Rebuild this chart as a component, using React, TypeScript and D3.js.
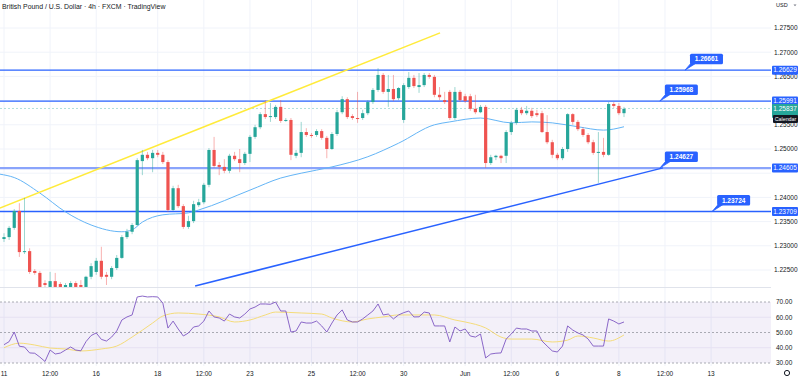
import React from 'react';
import * as d3 from 'd3';

const OPEN = [1.2314,1.2318,1.2337,1.2372,1.2287,1.2289,1.2248,1.2244,1.2223,1.2215,1.2227,1.2221,1.2213,1.2215,1.2223,1.2219,1.2215,1.2236,1.2246,1.2269,1.2240,1.2236,1.2254,1.2275,1.2318,1.2329,1.2343,1.2475,1.2488,1.2481,1.2492,1.2488,1.2473,1.2374,1.2419,1.2382,1.2339,1.2351,1.2384,1.2390,1.2426,1.2498,1.2467,1.2463,1.2455,1.2486,1.2479,1.2471,1.2490,1.2525,1.2545,1.2572,1.2566,1.2566,1.2587,1.2558,1.2560,1.2486,1.2492,1.2535,1.2529,1.2529,1.2537,1.2523,1.2500,1.2531,1.2576,1.2603,1.2568,1.2564,1.2564,1.2574,1.2597,1.2622,1.2653,1.2618,1.2624,1.2605,1.2560,1.2628,1.2647,1.2628,1.2632,1.2653,1.2649,1.2612,1.2601,1.2618,1.2564,1.2618,1.2609,1.2609,1.2583,1.2576,1.2587,1.2471,1.2483,1.2486,1.2486,1.2535,1.2554,1.2581,1.2574,1.2579,1.2574,1.2574,1.2535,1.2514,1.2488,1.2481,1.2500,1.2572,1.2556,1.2541,1.2529,1.2514,1.2492,1.2494,1.2488,1.2593,1.2589,1.2574];
const HIGH = [1.2326,1.2341,1.2376,1.2388,1.2399,1.2295,1.2252,1.2248,1.2229,1.2246,1.2244,1.2225,1.2223,1.2227,1.2227,1.2229,1.2238,1.2264,1.2275,1.2298,1.2246,1.2258,1.2281,1.2322,1.2335,1.2347,1.2481,1.2498,1.2494,1.2498,1.2498,1.2494,1.2477,1.2424,1.2426,1.2386,1.2362,1.2393,1.2397,1.2430,1.2502,1.2525,1.2473,1.2479,1.2490,1.2494,1.2500,1.2494,1.2529,1.2550,1.2576,1.2601,1.2595,1.2591,1.2601,1.2564,1.2564,1.2498,1.2556,1.2543,1.2533,1.2541,1.2541,1.2527,1.2535,1.2581,1.2609,1.2607,1.2572,1.2618,1.2581,1.2601,1.2626,1.2667,1.2657,1.2653,1.2653,1.2628,1.2636,1.2659,1.2653,1.2657,1.2657,1.2657,1.2653,1.2628,1.2618,1.2622,1.2628,1.2622,1.2614,1.2614,1.2612,1.2591,1.2591,1.2488,1.2488,1.2488,1.2539,1.2558,1.2585,1.2587,1.2589,1.2585,1.2581,1.2579,1.2570,1.2519,1.2492,1.2504,1.2574,1.2574,1.2560,1.2545,1.2533,1.2519,1.2535,1.2523,1.2597,1.2597,1.2595,1.2587];
const LOW = [1.2308,1.2312,1.2333,1.2277,1.2283,1.2242,1.2240,1.2211,1.2213,1.2213,1.2213,1.2211,1.2211,1.2213,1.2213,1.2211,1.2213,1.2231,1.2240,1.2231,1.2219,1.2231,1.2250,1.2273,1.2314,1.2324,1.2341,1.2446,1.2477,1.2452,1.2483,1.2469,1.2370,1.2372,1.2378,1.2335,1.2335,1.2347,1.2380,1.2386,1.2421,1.2461,1.2446,1.2450,1.2450,1.2475,1.2452,1.2467,1.2473,1.2521,1.2541,1.2562,1.2556,1.2562,1.2554,1.2556,1.2477,1.2481,1.2483,1.2525,1.2523,1.2525,1.2519,1.2481,1.2498,1.2527,1.2572,1.2562,1.2560,1.2554,1.2560,1.2570,1.2593,1.2618,1.2614,1.2587,1.2599,1.2601,1.2554,1.2624,1.2626,1.2616,1.2628,1.2645,1.2607,1.2601,1.2593,1.2560,1.2560,1.2597,1.2595,1.2579,1.2572,1.2574,1.2461,1.2467,1.2477,1.2471,1.2471,1.2529,1.2550,1.2570,1.2570,1.2564,1.2566,1.2533,1.2510,1.2481,1.2477,1.2477,1.2494,1.2550,1.2537,1.2525,1.2510,1.2488,1.2430,1.2483,1.2486,1.2585,1.2570,1.2566];
const CLOSE = [1.2318,1.2337,1.2372,1.2287,1.2289,1.2246,1.2244,1.2215,1.2219,1.2227,1.2215,1.2215,1.2219,1.2223,1.2215,1.2215,1.2236,1.2258,1.2269,1.2236,1.2236,1.2254,1.2275,1.2318,1.2329,1.2343,1.2477,1.2488,1.2481,1.2492,1.2488,1.2473,1.2374,1.2419,1.2382,1.2339,1.2351,1.2386,1.2390,1.2426,1.2498,1.2465,1.2463,1.2455,1.2486,1.2479,1.2471,1.2490,1.2525,1.2545,1.2572,1.2566,1.2568,1.2587,1.2558,1.2560,1.2488,1.2492,1.2535,1.2529,1.2527,1.2537,1.2523,1.2500,1.2531,1.2576,1.2603,1.2566,1.2564,1.2562,1.2574,1.2597,1.2622,1.2653,1.2618,1.2624,1.2603,1.2626,1.2632,1.2647,1.2630,1.2632,1.2653,1.2649,1.2612,1.2607,1.2597,1.2564,1.2618,1.2601,1.2599,1.2583,1.2576,1.2587,1.2471,1.2483,1.2486,1.2481,1.2535,1.2554,1.2581,1.2574,1.2579,1.2568,1.2570,1.2535,1.2514,1.2488,1.2481,1.2500,1.2572,1.2556,1.2541,1.2529,1.2514,1.2492,1.2494,1.2488,1.2593,1.2589,1.2574,1.2583];

const RSI = [42,44,50.3,41,40.5,36.6,36.4,33.9,31,38.5,35.9,36.5,38.5,40.5,38.5,38,44,48,49.7,45.5,44.4,47,51,58.2,60.2,61.5,73.3,73.9,73.3,73.5,73.3,69.3,52.9,57.5,52.3,47.7,49.7,53.6,54.3,57.5,64.1,60.2,59.5,57.5,62.1,60.2,59.5,62.1,65.4,66.7,68.7,68.7,68.5,70,64.1,64.1,50.3,51,56.9,56.2,56.2,57.5,54.3,50.3,56.2,61.5,64.8,58.2,56.9,56.9,58.9,61.5,64.1,68.7,61.5,62.1,58.9,61.5,63,64.1,60.2,60.3,63.4,62.8,54.3,54.3,54.3,43.8,53.6,51,52.3,47.7,47,49,33.3,35.9,36.4,36.6,45.7,49,52.9,52.3,52.3,51,51,44.4,41.1,37.9,37.2,41.1,54.3,51.6,49.7,48.4,45.7,41.1,41.1,41.1,58.9,57.5,55.6,56.9];

const RSI_MA_IDX = [0,3,6,9,12,15,19,22,25,29,31,34,38,42,45,48,51,53,58,62,64,68,71,74,77,84,88,90,94,97,99,103,107,110,112,115,118,121];
const RSI_MA_VAL = [40,43,41.8,39.8,39.2,37.9,39.2,41.1,47,56.2,60.8,62.8,62.1,60.2,56.9,58.2,61.5,63.4,62.8,62.1,59.5,56.9,58.9,60.2,61.5,61.5,58.2,56.9,53,47,45.7,45.7,43.8,45,47.7,46.4,44.4,48.4];

const EMA_IDX = [-0.8,2,7,12,17,23,25,27,31,36,38,48,54,58,64,71,77,84,87,93,99,103,107,112,117,121];
const EMA_VAL = [1.2448,1.2441,1.2409,1.2370,1.2343,1.2329,1.2333,1.2349,1.2364,1.2368,1.2374,1.2415,1.2440,1.2450,1.2463,1.2484,1.2512,1.2550,1.2556,1.2564,1.2554,1.2556,1.2554,1.2546,1.2539,1.2546];

const TIME_TICKS = [0,9,18,30,39,48,60,69,78,90,99,108,120,129,138];
const TIME_LABELS = ['11','12:00','16','18','12:00','23','25','12:00','30','Jun','12:00','6','8','12:00','13'];

const PRICE_TICKS = [1.275,1.27,1.265,1.26,1.255,1.25,1.245,1.24,1.235,1.23,1.225];
const RSI_TICKS = [70,60,50,40,30];

const LEVELS = [1.26629,1.25991,1.24605,1.23709];
const CALLOUT_TEXT = ['1.26661','1.25968','1.24627','1.23724'];
const CALLOUT_IDX = [132.9,128.0,128.0,138.2];

const YELLOW_IDX = [-0.8,85.1];
const YELLOW_P = [1.2378,1.2740];
const BLUE_IDX = [37.3,128.6];
const BLUE_P = [1.2217,1.2461];

const LAST_PRICE = 1.25837;

const FONT = '"Liberation Sans", Arial, sans-serif';
const GREEN = '#26a69a';
const RED = '#ef5350';
const BLUE = '#2962ff';

export default function App() {
  const W = 800, H = 382;
  const plotR = 771;
  const x = d3.scaleLinear().domain([0, 121]).range([4, 624]);
  const y = d3.scaleLinear().domain([1.225, 1.275]).range([270, 28]);
  const ry = d3.scaleLinear().domain([30, 70]).range([363, 302]);
  const idx = d3.range(OPEN.length);

  const emaLine = d3.line<number>().x(i => x(EMA_IDX[i])).y(i => y(EMA_VAL[i])).curve(d3.curveMonotoneX);
  const rsiLine = d3.line<number>().x(i => x(i)).y(i => ry(RSI[i]));
  const rsiMaLine = d3.line<number>().x(i => x(RSI_MA_IDX[i])).y(i => ry(RSI_MA_VAL[i])).curve(d3.curveMonotoneX);

  const bw = 3.2;
  const txt = { fontFamily: FONT, fontSize: 6.5, fill: '#131722' } as const;

  const boxed = [...LEVELS, LAST_PRICE];
  const visibleTicks = PRICE_TICKS.filter(p => boxed.every(b => Math.abs(y(p) - y(b)) > 5.8));

  return (
    <svg width={W} height={H} style={{ position: 'fixed', left: 0, top: 0, background: '#fff' }} xmlns="http://www.w3.org/2000/svg">
      <defs>
        <clipPath id="main"><rect x={0} y={0} width={plotR} height={287} /></clipPath>
        <clipPath id="rsi"><rect x={0} y={288} width={plotR} height={78} /></clipPath>
      </defs>
      <rect x={0} y={0} width={W} height={H} fill="#fff" />
      {TIME_TICKS.map((t, i) => (
        <line key={'vg' + i} x1={x(t)} x2={x(t)} y1={0} y2={366} stroke="#f0f3fa" strokeWidth={1} />
      ))}
      {PRICE_TICKS.map((p, i) => (
        <line key={'hg' + i} x1={0} x2={plotR} y1={y(p)} y2={y(p)} stroke="#f0f3fa" strokeWidth={1} />
      ))}
      <rect x={0} y={ry(70)} width={plotR} height={ry(30) - ry(70)} fill="#7e57c2" fillOpacity={0.09} clipPath="url(#rsi)" />
      {[60, 40].map(v => (
        <line key={'rg' + v} x1={0} x2={plotR} y1={ry(v)} y2={ry(v)} stroke="#e6e1f2" strokeWidth={1} />
      ))}
      {[70, 50, 30].map(v => (
        <line key={'rd' + v} x1={0} x2={plotR} y1={ry(v)} y2={ry(v)} stroke="#9598a1" strokeWidth={0.8} strokeDasharray="2,2" />
      ))}
      <line x1={0} x2={W} y1={287.5} y2={287.5} stroke="#e0e3eb" strokeWidth={1} />
      <g clipPath="url(#rsi)">
        <path d={rsiMaLine(d3.range(RSI_MA_IDX.length)) || ''} fill="none" stroke="#f5dc7a" strokeWidth={1} />
        <path d={rsiLine(idx) || ''} fill="none" stroke="#7e57c2" strokeWidth={0.9} />
      </g>

      <g clipPath="url(#main)">
        <line x1={0} x2={plotR} y1={y(LAST_PRICE)} y2={y(LAST_PRICE)} stroke={GREEN} strokeOpacity={0.35} strokeWidth={1} strokeDasharray="2,2" />
        {LEVELS.map((p, i) => (
          <line key={'lv' + i} x1={0} x2={plotR} y1={y(p)} y2={y(p)}
            stroke={i === 2 ? '#8aa4fb' : BLUE} strokeWidth={i === 2 ? 2.2 : 1.3} />
        ))}
        <path d={emaLine(d3.range(EMA_IDX.length)) || ''} fill="none" stroke="#64b5f6" strokeWidth={1} />
        <line x1={x(YELLOW_IDX[0])} y1={y(YELLOW_P[0])} x2={x(YELLOW_IDX[1])} y2={y(YELLOW_P[1])} stroke="#ffeb3b" strokeWidth={1.5} />
        <line x1={x(BLUE_IDX[0])} y1={y(BLUE_P[0])} x2={x(BLUE_IDX[1])} y2={y(BLUE_P[1])} stroke={BLUE} strokeWidth={1.5} />
        {idx.map(i => {
          const up = CLOSE[i] >= OPEN[i];
          const col = up ? GREEN : RED;
          const cx = x(i);
          const top = y(Math.max(OPEN[i], CLOSE[i]));
          const bot = y(Math.min(OPEN[i], CLOSE[i]));
          return (
            <g key={'c' + i}>
              <line x1={cx} x2={cx} y1={y(HIGH[i])} y2={y(LOW[i])} stroke={col} strokeOpacity={0.45} strokeWidth={1} />
              <rect x={cx - bw / 2} y={top} width={bw} height={Math.max(1, bot - top)} fill={col} />
            </g>
          );
        })}
        {CALLOUT_TEXT.map((t, i) => {
          const tx = x(CALLOUT_IDX[i]);
          const ty = y(LEVELS[i]);
          const bx = tx + 5, bb = ty - 6, bwid = 33, bh = 10.5;
          return (
            <g key={'co' + i}>
              <path d={`M${tx},${ty} L${bx + 1},${bb - 1} L${bx + 6},${bb - 1} Z`} fill={BLUE} stroke={BLUE} strokeWidth={0.8} />
              <rect x={bx} y={bb - bh} width={bwid} height={bh} rx={1.5} fill={BLUE} />
              <text x={bx + bwid / 2} y={bb - bh / 2 + 2.3} textAnchor="middle" fontFamily={FONT} fontSize={6.5} fontWeight="bold" fill="#fff">{t}</text>
            </g>
          );
        })}
      </g>

      <text x={2} y={9} {...txt} fontSize={6.9} fill="#131722">British Pound / U.S. Dollar · 4h · FXCM · TradingView</text>

      <rect x={plotR} y={0} width={W - plotR} height={H} fill="#fff" />
      <text x={776} y={7} {...txt} fontSize={5.5}>USD</text>
      <path d="M793.5,4.5 L796.5,4.5 L795,6.3 Z" fill="#787b86" />
      {visibleTicks.map((p, i) => (
        <text key={'pl' + i} x={774} y={y(p) + 2.3} {...txt}>{d3.format('.5f')(p)}</text>
      ))}
      {LEVELS.map((p, i) => (
        <g key={'ll' + i}>
          <rect x={772} y={y(p) - 4.5} width={26} height={9} rx={1} fill={BLUE} />
          <text x={785} y={y(p) + 2.3} textAnchor="middle" {...txt} fill="#fff">{d3.format('.5f')(p)}</text>
        </g>
      ))}
      <rect x={772} y={y(LAST_PRICE) - 4.5} width={26} height={14} rx={1} fill={GREEN} />
      <text x={785} y={y(LAST_PRICE) + 2.3} textAnchor="middle" {...txt} fill="#fff">{d3.format('.5f')(LAST_PRICE)}</text>
      <rect x={773} y={115} width={25} height={8} rx={1} fill="#131722" />
      <text x={785.5} y={121} textAnchor="middle" {...txt} fontSize={5.3} fill="#fff">Calendar</text>

      {RSI_TICKS.map(v => (
        <text key={'rl' + v} x={776} y={ry(v) + 2.3} {...txt}>{d3.format('.2f')(v)}</text>
      ))}

      {TIME_TICKS.map((t, i) => (
        <text key={'tl' + i} x={x(t)} y={376} textAnchor="middle" {...txt}>{TIME_LABELS[i]}</text>
      ))}
      <circle cx={787} cy={373} r={2.6} fill="none" stroke="#131722" strokeWidth={1} />
    </svg>
  );
}
